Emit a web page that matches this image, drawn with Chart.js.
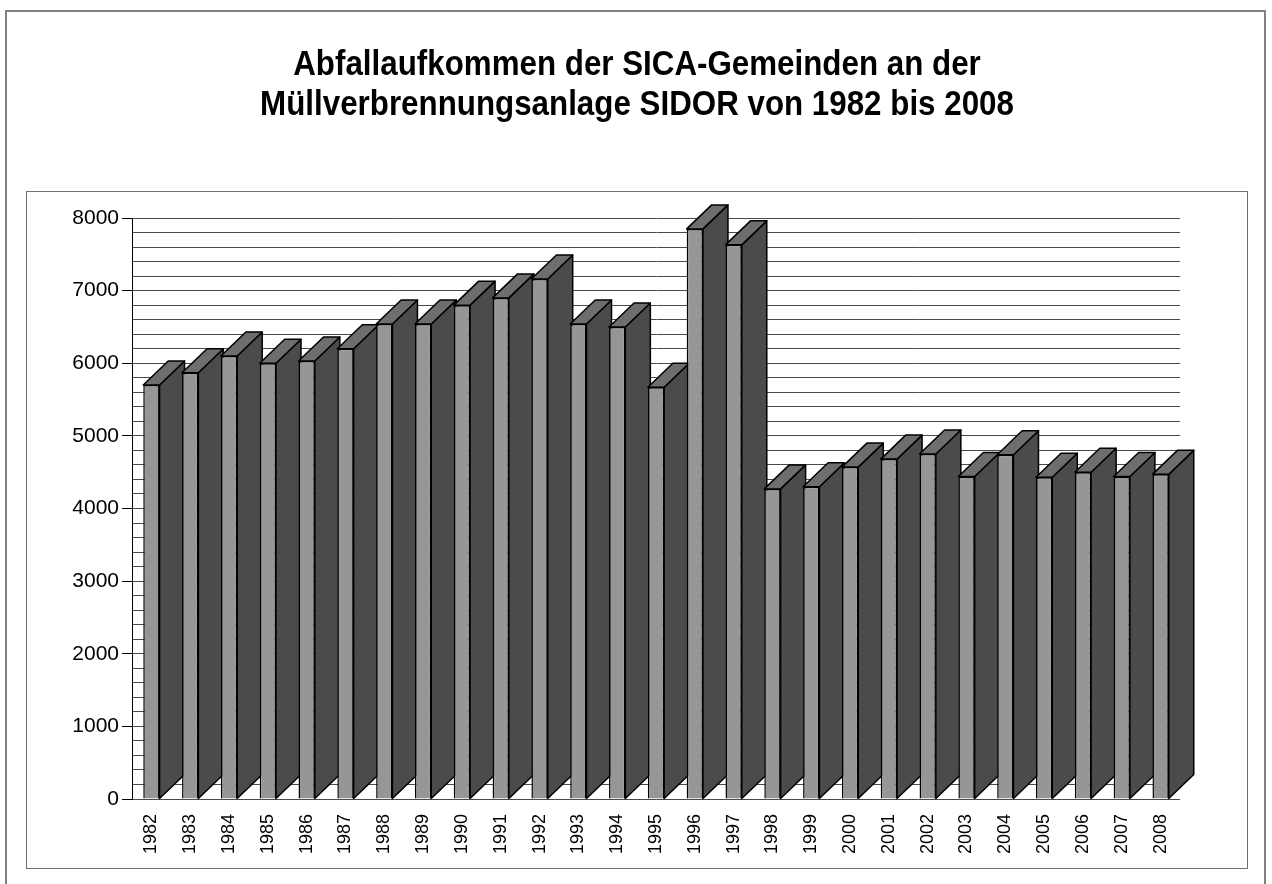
<!DOCTYPE html>
<html>
<head>
<meta charset="utf-8">
<script src="https://cdn.jsdelivr.net/npm/chart.js@4"></script>
<style>
  body { margin: 0; background: #fff; }
  #outer { position: absolute; left: 5px; top: 10px; width: 1257px; height: 880px; border: 2px solid #808080; }
  #inner { position: absolute; left: 26px; top: 191px; width: 1220px; height: 676px; border: 1px solid #707070; }
  #wrap { position: absolute; left: 0; top: 0; width: 1272px; height: 884px; }
</style>
</head>
<body>
<div id="outer"></div>
<div id="inner"></div>
<div id="wrap"><canvas id="chart" width="1272" height="884"></canvas></div>
<script>
const years = ['1982', '1983', '1984', '1985', '1986', '1987', '1988', '1989', '1990',
  '1991', '1992', '1993', '1994', '1995', '1996', '1997', '1998', '1999', '2000',
  '2001', '2002', '2003', '2004', '2005', '2006', '2007', '2008'];
const tonnes = [5700, 5870, 6100, 6000, 6030, 6200, 6540, 6540, 6800,
  6900, 7160, 6540, 6500, 5670, 7850, 7630, 4270, 4300, 4570,
  4680, 4750, 4440, 4740, 4430, 4500, 4440, 4470];
const titleLines = ['Abfallaufkommen der SICA-Gemeinden an der', 'Müllverbrennungsanlage SIDOR von 1982 bis 2008'];

// side + top faces of the pseudo 3D columns, drawn behind the front faces
const DX = 25, DY = 24;
const extrude = {
  id: 'extrude',
  beforeDatasetsDraw(chart) {
    const ctx = chart.ctx;
    const meta = chart.getDatasetMeta(0);
    ctx.save();
    ctx.lineWidth = 1.5;
    ctx.strokeStyle = '#000';
    ctx.lineJoin = 'round';
    meta.data.forEach((bar) => {
      const p = bar.getProps(['x', 'y', 'base', 'width'], true);
      const l = p.x - p.width / 2, r = p.x + p.width / 2;
      // side
      ctx.beginPath();
      ctx.moveTo(r, p.base);
      ctx.lineTo(r + DX, p.base - DY);
      ctx.lineTo(r + DX, p.y - DY);
      ctx.lineTo(r, p.y);
      ctx.closePath();
      ctx.fillStyle = '#4b4b4b';
      ctx.fill();
      ctx.stroke();
      // top
      ctx.beginPath();
      ctx.moveTo(l, p.y);
      ctx.lineTo(l + DX, p.y - DY);
      ctx.lineTo(r + DX, p.y - DY);
      ctx.lineTo(r, p.y);
      ctx.closePath();
      ctx.fillStyle = '#6e6e6e';
      ctx.fill();
      ctx.stroke();
    });
    ctx.restore();
  }
};

// condensed bold title, centred on the whole canvas
const condensedTitle = {
  id: 'condensedTitle',
  afterDraw(chart) {
    const ctx = chart.ctx;
    ctx.save();
    ctx.fillStyle = '#000';
    ctx.font = 'bold 35px "Liberation Sans", Arial, sans-serif';
    ctx.textAlign = 'center';
    ctx.textBaseline = 'alphabetic';
    titleLines.forEach((line, i) => {
      ctx.save();
      ctx.translate(chart.width / 2 + 1, 75 + i * 40);
      ctx.scale(0.895, 1);
      ctx.fillText(line, 0, 0);
      ctx.restore();
    });
    ctx.restore();
  }
};

new Chart(document.getElementById('chart'), {
  type: 'bar',
  data: {
    labels: years,
    datasets: [{
      data: tonnes,
      backgroundColor: '#969696',
      borderColor: '#000',
      borderWidth: 1.5,
      barPercentage: 0.42,
      categoryPercentage: 1
    }]
  },
  options: {
    responsive: false,
    animation: false,
    layout: { padding: { left: 26, right: 92, top: 218, bottom: 15 } },
    plugins: {
      legend: { display: false },
      tooltip: { enabled: false },
      title: { display: false }
    },
    scales: {
      x: {
        grid: { display: false },
        border: { display: false },
        afterFit: (s) => { s.height = 70; },
        ticks: {
          color: '#000',
          font: { family: 'Liberation Sans, Arial, sans-serif', size: 18 },
          minRotation: 90,
          maxRotation: 90,
          autoSkip: false,
          padding: 7
        }
      },
      y: {
        min: 0,
        max: 8000,
        afterFit: (s) => { s.width = 106; },
        border: { display: true, color: '#000', width: 1 },
        grid: {
          color: '#4a4a4a',
          lineWidth: 1,
          tickLength: 10,
          tickColor: (c) => (c.tick && c.tick.value % 1000 === 0 ? '#000' : 'rgba(0,0,0,0)')
        },
        ticks: {
          stepSize: 200,
          autoSkip: false,
          color: '#000',
          padding: 3,
          font: { family: 'Liberation Sans, Arial, sans-serif', size: 21 },
          callback: (v) => (v % 1000 === 0 ? v : '')
        }
      }
    }
  },
  plugins: [extrude, condensedTitle]
});
</script>
</body>
</html>
